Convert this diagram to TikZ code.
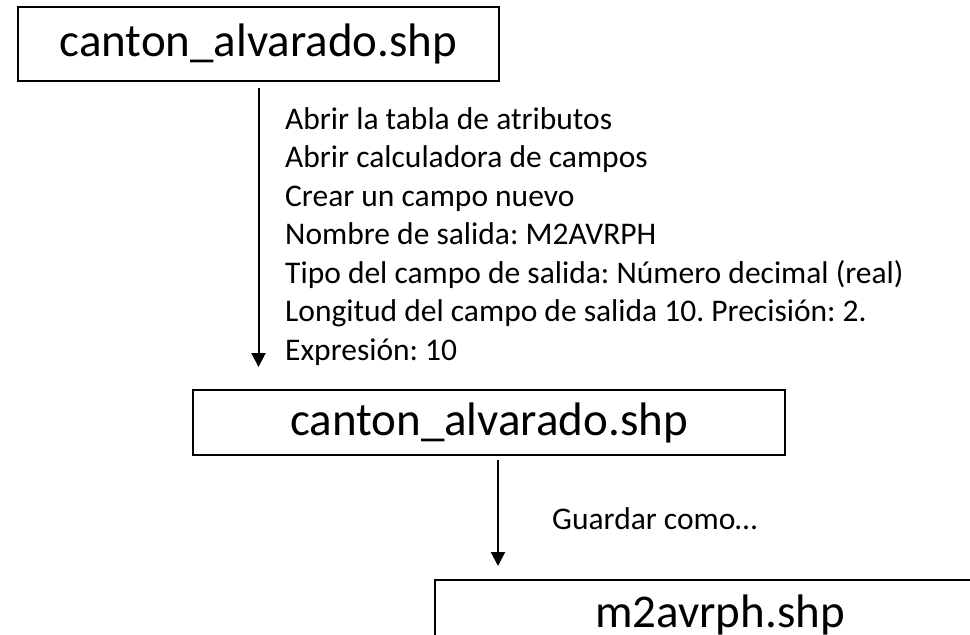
\documentclass[tikz,border=0pt]{standalone}
\usepackage{fontspec}
\setmainfont{Carlito}
\frenchspacing
\usetikzlibrary{positioning,arrows.meta}

\begin{document}
\begin{tikzpicture}[
    x=1pt, y=-1pt,
    filebox/.style={draw, line width=2pt, inner sep=0pt, font=\fontsize{47}{56}\selectfont},
    note/.style={inner sep=0pt, align=left, font=\fontsize{31.5}{38.5}\selectfont},
    flow/.style={-{Triangle[width=14pt,length=14pt]}, line width=2pt}
]
\useasboundingbox (0,0) rectangle (970,635);
\clip (0,0) rectangle (970,635);

% Source layer
\node[filebox, minimum width=481pt, minimum height=74pt] (src) at (258.5,44) {canton\_alvarado.shp};

% Layer with new field
\node[filebox, minimum width=592pt, minimum height=65pt] (calc) at (489,422.5) {canton\_alvarado.shp};

% Output layer
\node[filebox, minimum width=570pt, minimum height=70pt] (out) at (720,615) {m2avrph.shp};

% Steps of the field calculator
\node[note, anchor=north west] (steps) at (285,107) {Abrir la tabla de atributos\\
Abrir calculadora de campos\\
Crear un campo nuevo\\
Nombre de salida: M2AVRPH\\
Tipo del campo de salida: Número decimal (real)\\
Longitud del campo de salida 10. Precisión: 2.\\
Expresión: 10};

\node[note, anchor=base west] (save) at (552,529) {Guardar como…};

% Vertical arrows
\draw[flow, shorten <=6pt, shorten >=22pt] (src.south) -- (src.south |- calc.north);
\draw[flow, shorten <=4pt, shorten >=13pt] ([xshift=9pt]calc.south) -- ([xshift=9pt]calc.south |- out.north);

\end{tikzpicture}
\end{document}
